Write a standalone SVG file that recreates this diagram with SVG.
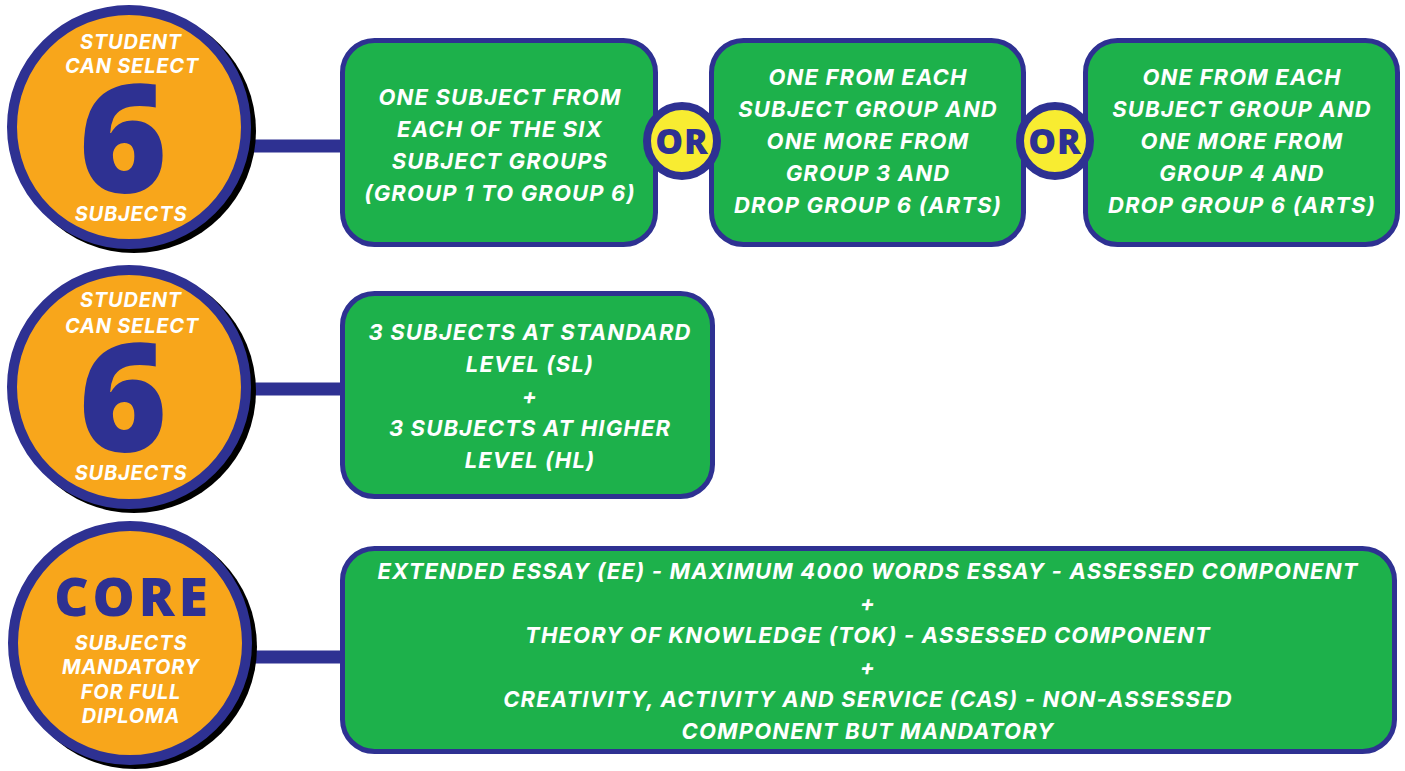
<svg xmlns="http://www.w3.org/2000/svg" width="1405" height="771" viewBox="0 0 1405 771">
<style>
.shadow{fill:#000}
.circ{fill:#F8A61B;stroke:#2E3192;stroke-width:10}
.box{fill:#1DB14B;stroke:#2E3192;stroke-width:5}
.or{fill:#F8EC31;stroke:#2E3192;stroke-width:8}
.link{stroke:#2E3192;stroke-width:13;fill:none}
.t{font-family:Inter,"Open Sans","Liberation Sans",sans-serif;font-weight:700;font-style:italic;fill:#fff;text-anchor:middle;font-size:22px;letter-spacing:1.15px}
.ct{font-family:Inter,"Open Sans","Liberation Sans",sans-serif;font-weight:700;font-style:italic;fill:#fff;text-anchor:middle;font-size:20px;letter-spacing:0.8px}
.big{font-family:"Open Sans","Liberation Sans",sans-serif;font-weight:800;fill:#2E3192;text-anchor:middle;font-size:151px}
.core{font-family:"Open Sans","Liberation Sans",sans-serif;font-weight:800;fill:#2E3192;text-anchor:middle;font-size:53px;letter-spacing:4px}
.ort{font-family:"Open Sans","Liberation Sans",sans-serif;font-weight:800;fill:#2E3192;text-anchor:middle;font-size:35px;letter-spacing:1px}
</style>
<g id="connectors">
<line class="link" x1="245" y1="146" x2="344" y2="146"/>
<line class="link" x1="245" y1="389" x2="344" y2="389"/>
<line class="link" x1="245" y1="657" x2="344" y2="657"/>
</g>
<g id="circle1">
<circle class="shadow" cx="134" cy="131" r="122"/>
<circle class="circ" cx="129" cy="127" r="117"/>
<text class="ct" x="131" y="49">STUDENT</text>
<text class="ct" x="132" y="73">CAN SELECT</text>
<text class="big" x="123" y="193">6</text>
<text class="ct" x="131" y="221">SUBJECTS</text>
</g>
<g id="circle2">
<circle class="shadow" cx="134" cy="391" r="122"/>
<circle class="circ" cx="129" cy="387" r="117"/>
<text class="ct" x="131" y="307">STUDENT</text>
<text class="ct" x="132" y="333">CAN SELECT</text>
<text class="big" x="123" y="452">6</text>
<text class="ct" x="131" y="480">SUBJECTS</text>
</g>
<g id="circle3">
<circle class="shadow" cx="135" cy="647" r="122"/>
<circle class="circ" cx="130" cy="643" r="117"/>
<text class="core" x="133" y="616">CORE</text>
<text class="ct" x="131" y="650">SUBJECTS</text>
<text class="ct" x="131" y="674">MANDATORY</text>
<text class="ct" x="131" y="699">FOR FULL</text>
<text class="ct" x="131" y="723">DIPLOMA</text>
</g>
<g id="box1">
<rect class="box" x="342.5" y="40.5" width="313" height="204" rx="32"/>
<text class="t" x="500" y="105">ONE SUBJECT FROM</text>
<text class="t" x="500" y="137">EACH OF THE SIX</text>
<text class="t" x="500" y="169">SUBJECT GROUPS</text>
<text class="t" x="500" y="201">(GROUP 1 TO GROUP 6)</text>
</g>
<g id="box2">
<rect class="box" x="711.5" y="40.5" width="312" height="204" rx="32"/>
<text class="t" x="868" y="85">ONE FROM EACH</text>
<text class="t" x="868" y="117">SUBJECT GROUP AND</text>
<text class="t" x="868" y="149">ONE MORE FROM</text>
<text class="t" x="868" y="181">GROUP 3 AND</text>
<text class="t" x="868" y="213">DROP GROUP 6 (ARTS)</text>
</g>
<g id="box3">
<rect class="box" x="1085.5" y="40.5" width="312" height="204" rx="32"/>
<text class="t" x="1242" y="85">ONE FROM EACH</text>
<text class="t" x="1242" y="117">SUBJECT GROUP AND</text>
<text class="t" x="1242" y="149">ONE MORE FROM</text>
<text class="t" x="1242" y="181">GROUP 4 AND</text>
<text class="t" x="1242" y="213">DROP GROUP 6 (ARTS)</text>
</g>
<g id="or1">
<circle class="or" cx="682" cy="141" r="35"/>
<text class="ort" x="682" y="154">OR</text>
</g>
<g id="or2">
<circle class="or" cx="1055" cy="141" r="35"/>
<text class="ort" x="1055" y="154">OR</text>
</g>
<g id="box4">
<rect class="box" x="342.5" y="293.5" width="370" height="203" rx="32"/>
<text class="t" x="530" y="340">3 SUBJECTS AT STANDARD</text>
<text class="t" x="530" y="372">LEVEL (SL)</text>
<text class="t" x="530" y="404">+</text>
<text class="t" x="530" y="436">3 SUBJECTS AT HIGHER</text>
<text class="t" x="530" y="468">LEVEL (HL)</text>
</g>
<g id="box5">
<rect class="box" x="342.5" y="548.5" width="1052" height="203" rx="32"/>
<text class="t" x="868" y="579">EXTENDED ESSAY (EE) - MAXIMUM 4000 WORDS ESSAY - ASSESSED COMPONENT</text>
<text class="t" x="868" y="611">+</text>
<text class="t" x="868" y="643">THEORY OF KNOWLEDGE (TOK) - ASSESSED COMPONENT</text>
<text class="t" x="868" y="675">+</text>
<text class="t" x="868" y="707">CREATIVITY, ACTIVITY AND SERVICE (CAS) - NON-ASSESSED</text>
<text class="t" x="868" y="739">COMPONENT BUT MANDATORY</text>
</g>
</svg>
